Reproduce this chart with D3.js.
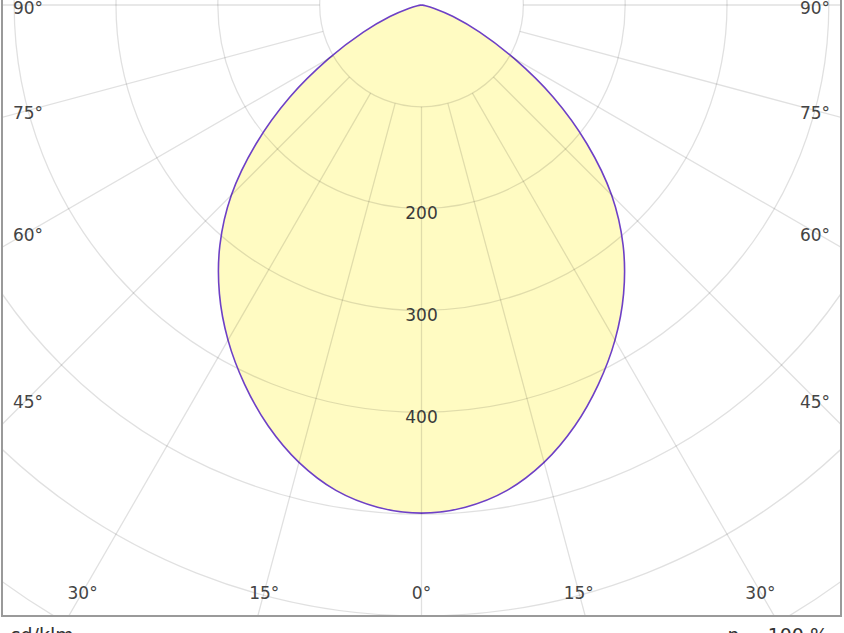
<!DOCTYPE html>
<html>
<head>
<meta charset="utf-8">
<script src="https://cdn.jsdelivr.net/npm/d3@7"></script>
<style>
    body { margin: 0; background: #ffffff; }
    svg { display: block; font-family: "DejaVu Sans", Verdana, sans-serif; }
</style>
</head>
<body>
<div id="chart"></div>
<script>
// gamma angles (deg, from nadir) and luminous intensity in cd/klm
const gammaAngles = [0, 5, 10, 15, 20, 25, 30, 35, 40, 45, 50, 55, 60, 65, 70, 75, 80, 85, 90];
const intensity = [499, 495, 484, 465, 440, 411, 380, 346, 308, 264, 212, 158, 105, 63, 33, 13, 4, 1, 0];

// grid
const ringValues = [100, 200, 300, 400, 500, 600, 700, 800, 900, 1000];
const ringLabels = [200, 300, 400];
const spokeAngles = [0, 15, 30, 45, 60, 75, 90];
const bottomAngleLabels = [0, 15, 30];
const sideAngleLabels = [45, 60, 75, 90];

const unitLabel = "cd/klm";
const efficiencyLabel = "η = 100 %";

let width = 844;
let height = 633;
let center = {x: 421.5, y: 5};
let frame = {left: 2, right: 841, top: -20, bottom: 616};

let svg = d3.select("#chart")
    .append("svg")
    .attr("width", width)
    .attr("height", height);

let r = d3.scaleLinear()
    .domain([0, 600])
    .range([0, 611]);

const rad = d => d * Math.PI / 180;

// point on the diagram, gamma measured from the downward vertical
function polar(value, gamma, side) {
    return [center.x + side * r(value) * Math.sin(rad(gamma)),
        center.y + r(value) * Math.cos(rad(gamma))];
}

svg.append("clipPath")
    .attr("id", "plotClip")
    .append("rect")
    .attr("x", frame.left)
    .attr("y", frame.top)
    .attr("width", frame.right - frame.left)
    .attr("height", frame.bottom - frame.top);

let plot = svg.append("g")
    .attr("clip-path", "url(#plotClip)");

let g = plot.append("g")
    .attr("transform", `translate(${center.x},${center.y})`);

// C0 half on the left (gamma 90 -> 0), C180 half on the right (0 -> 90)
let curveData = [];
for (let i = gammaAngles.length - 1; i >= 0; i--) {
    curveData.push({a: Math.PI + rad(gammaAngles[i]), v: intensity[i]});
}
for (let i = 1; i < gammaAngles.length; i++) {
    curveData.push({a: Math.PI - rad(gammaAngles[i]), v: intensity[i]});
}

let line = d3.lineRadial()
    .angle(d => d.a)
    .radius(d => r(d.v))
    .curve(d3.curveCatmullRom);

// fill first, grid goes over it
g.append("path")
    .datum(curveData)
    .attr("d", line)
    .attr("fill", "#fffbc2")
    .attr("stroke", "none");

g.selectAll(".ring")
    .data(ringValues)
    .join("circle")
    .attr("class", "ring")
    .attr("r", d => r(d))
    .attr("fill", "none")
    .attr("stroke", "rgba(0,0,0,0.12)")
    .attr("stroke-width", 1.3);

let spokes = [];
spokeAngles.forEach(a => {
    spokes.push({a: a, side: -1});
    if (a !== 0) spokes.push({a: a, side: 1});
});

plot.selectAll(".spoke")
    .data(spokes)
    .join("line")
    .attr("class", "spoke")
    .attr("x1", d => polar(100, d.a, d.side)[0])
    .attr("y1", d => polar(100, d.a, d.side)[1])
    .attr("x2", d => polar(1100, d.a, d.side)[0])
    .attr("y2", d => polar(1100, d.a, d.side)[1])
    .attr("stroke", "rgba(0,0,0,0.12)")
    .attr("stroke-width", 1.3);

g.append("path")
    .datum(curveData)
    .attr("d", line)
    .attr("fill", "none")
    .attr("stroke", "#6e40c6")
    .attr("stroke-width", 1.6);

// intensity labels along the nadir axis
plot.selectAll(".ringLabel")
    .data(ringLabels)
    .join("text")
    .attr("class", "ringLabel")
    .attr("x", center.x)
    .attr("y", d => center.y + r(d) + 10.5)
    .attr("text-anchor", "middle")
    .style("font-size", "17px")
    .style("fill", "#3a3a3a")
    .text(d => d);

// angle labels along the bottom
let bottomY = 592;
let bottomLabels = [];
bottomAngleLabels.forEach(a => {
    bottomLabels.push({a: a, side: -1});
    if (a !== 0) bottomLabels.push({a: a, side: 1});
});

plot.selectAll(".bottomAngle")
    .data(bottomLabels)
    .join("text")
    .attr("class", "bottomAngle")
    .attr("x", d => center.x + d.side * (bottomY - center.y) * Math.tan(rad(d.a)))
    .attr("y", bottomY + 7)
    .attr("text-anchor", "middle")
    .style("font-size", "17px")
    .style("fill", "#444")
    .text(d => d.a + "°");

// angle labels along both sides
let sideDx = 393.5;
let sideLabels = [];
sideAngleLabels.forEach(a => {
    sideLabels.push({a: a, side: -1});
    sideLabels.push({a: a, side: 1});
});

plot.selectAll(".sideAngle")
    .data(sideLabels)
    .join("text")
    .attr("class", "sideAngle")
    .attr("x", d => center.x + d.side * sideDx)
    .attr("y", d => center.y + sideDx / Math.tan(rad(d.a)) + 9)
    .attr("text-anchor", "middle")
    .style("font-size", "17px")
    .style("fill", "#444")
    .text(d => d.a + "°");

// frame
svg.append("rect")
    .attr("x", frame.left)
    .attr("y", frame.top)
    .attr("width", frame.right - frame.left)
    .attr("height", frame.bottom - frame.top)
    .attr("fill", "none")
    .attr("stroke", "#9a9a9a")
    .attr("stroke-width", 2);

svg.append("text")
    .attr("x", 10)
    .attr("y", 642)
    .style("font-size", "19px")
    .style("fill", "#333")
    .text(unitLabel);

svg.append("text")
    .attr("x", 828)
    .attr("y", 642)
    .attr("text-anchor", "end")
    .style("font-size", "19px")
    .style("fill", "#333")
    .text(efficiencyLabel);
</script>
</body>
</html>
